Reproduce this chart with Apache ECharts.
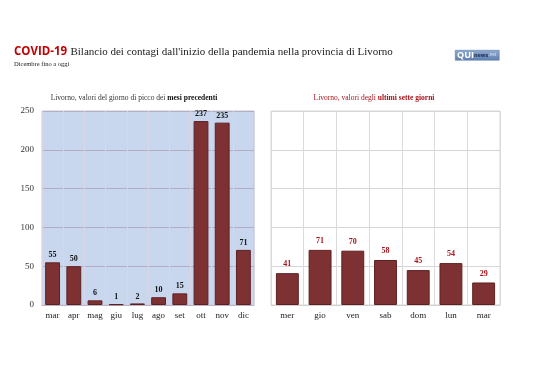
<!DOCTYPE html>
<html><head><meta charset="utf-8">
<script src="https://cdn.jsdelivr.net/npm/echarts@6/dist/echarts.min.js"></script>
<style>html,body{margin:0;padding:0;background:#fff}#c{width:538px;height:380px}</style>
</head><body><div id="c"></div>
<script>
const monthCats = ['mar','apr','mag','giu','lug','ago','set','ott','nov','dic'];
const monthVals = [55, 50, 6, 1, 2, 10, 15, 237, 235, 71];
const dayCats = ['mer','gio','ven','sab','dom','lun','mar'];
const dayVals = [41, 71, 70, 58, 45, 54, 29];
const yTicks = [0, 50, 100, 150, 200, 250];

const serif = '"Liberation Serif", "DejaVu Serif", serif';
const sans = '"Open Sans", "Liberation Sans", sans-serif';
const barColor = '#7e3132';
const barBorder = '#5e2020';

const chart = echarts.init(document.getElementById('c'), null, {renderer:'canvas'});
chart.setOption({
  animation: false,
  backgroundColor: '#ffffff',
  grid: [
    {left: 42, right: 284, top: 111, bottom: 75, show: true, backgroundColor: '#c9d7ee', borderColor: '#c7c7d7', borderWidth: 1},
    {left: 271, right: 38, top: 111, bottom: 75, show: true, backgroundColor: '#ffffff', borderColor: '#d6d6d6', borderWidth: 1}
  ],
  xAxis: [
    {type: 'category', gridIndex: 0, data: monthCats, boundaryGap: true,
     axisLine: {show: true, lineStyle: {color: '#b9b3c4'}}, axisTick: {show: false},
     axisLabel: {fontFamily: serif, fontSize: 9, color: '#222', margin: 6},
     splitLine: {show: true, lineStyle: {color: '#d8d6e6', width: 1}}},
    {type: 'category', gridIndex: 1, data: dayCats, boundaryGap: true,
     axisLine: {show: true, lineStyle: {color: '#d0d0d0'}}, axisTick: {show: false},
     axisLabel: {fontFamily: serif, fontSize: 9, color: '#222', margin: 6},
     splitLine: {show: true, lineStyle: {color: '#dadada', width: 1}}}
  ],
  yAxis: [
    {type: 'value', gridIndex: 0, min: yTicks[0], max: yTicks[yTicks.length-1], interval: 50,
     axisLine: {show: false}, axisTick: {show: false},
     axisLabel: {fontFamily: serif, fontSize: 9, color: '#333', margin: 8},
     splitLine: {show: true, lineStyle: {color: '#b3acc2', width: 1}}},
    {type: 'value', gridIndex: 1, min: yTicks[0], max: yTicks[yTicks.length-1], interval: 50,
     axisLine: {show: false}, axisTick: {show: false},
     axisLabel: {show: false},
     splitLine: {show: true, lineStyle: {color: '#d6d6d6', width: 1}}}
  ],
  series: [
    {type: 'bar', xAxisIndex: 0, yAxisIndex: 0, data: monthVals, barWidth: '70%',
     itemStyle: {color: barColor, borderColor: barBorder, borderWidth: 1},
     label: {show: true, position: 'top', distance: 3, fontFamily: serif, fontWeight: 'bold', fontSize: 8, color: '#111'}},
    {type: 'bar', xAxisIndex: 1, yAxisIndex: 1, data: dayVals, barWidth: '70%',
     itemStyle: {color: barColor, borderColor: barBorder, borderWidth: 1},
     label: {show: true, position: 'top', distance: 5, fontFamily: serif, fontWeight: 'bold', fontSize: 8, color: '#a8141a'}}
  ],
  graphic: [
    {type: 'text', left: 14, top: 46, style: {
      text: '{a|COVID-19} {b|Bilancio dei contagi dall\'inizio della pandemia nella provincia di Livorno}',
      rich: {
        a: {fontFamily: sans, fontWeight: 'bold', fontSize: 11.5, fill: '#c00000'},
        b: {fontFamily: serif, fontSize: 11, fill: '#1a1a1a'}
      }}},
    {type: 'text', left: 14, top: 61, style: {text: 'Dicembre fino a oggi', fontFamily: serif, fontSize: 6.5, fill: '#222'}},
    {type: 'rect', left: 455, top: 50, shape: {width: 44, height: 10}, style: {
      fill: new echarts.graphic.LinearGradient(0,0,0,1,[{offset:0,color:'#8fa9cf'},{offset:1,color:'#5f7fb0'}]),
      stroke: '#5674a4', lineWidth: 0.5}},
    {type: 'text', left: 457, top: 50.5, style: {
      text: '{q|QUI}{n|news}{s|.net}',
      rich: {
        q: {fontFamily: sans, fontWeight: 'bold', fontSize: 9, fill: '#ffffff'},
        n: {fontFamily: sans, fontWeight: 'bold', fontSize: 5.5, fill: '#1d2f55'},
        s: {fontFamily: sans, fontSize: 4.5, fill: '#dfe7f3'}
      }}},
    {type: 'text', x: 134, y: 98, style: {
      text: '{r|Livorno, valori del giorno di picco dei }{b|mesi precedenti}',
      align: 'center', verticalAlign: 'middle',
      rich: {
        r: {fontFamily: serif, fontSize: 7.5, fill: '#333'},
        b: {fontFamily: serif, fontSize: 7.5, fontWeight: 'bold', fill: '#111'}
      }}},
    {type: 'text', x: 374, y: 98, style: {
      text: '{r|Livorno, valori degli }{b|ultimi sette giorni}',
      align: 'center', verticalAlign: 'middle',
      rich: {
        r: {fontFamily: serif, fontSize: 7.5, fill: '#a8141a'},
        b: {fontFamily: serif, fontSize: 7.5, fontWeight: 'bold', fill: '#a8141a'}
      }}}
  ]
});
</script></body></html>
